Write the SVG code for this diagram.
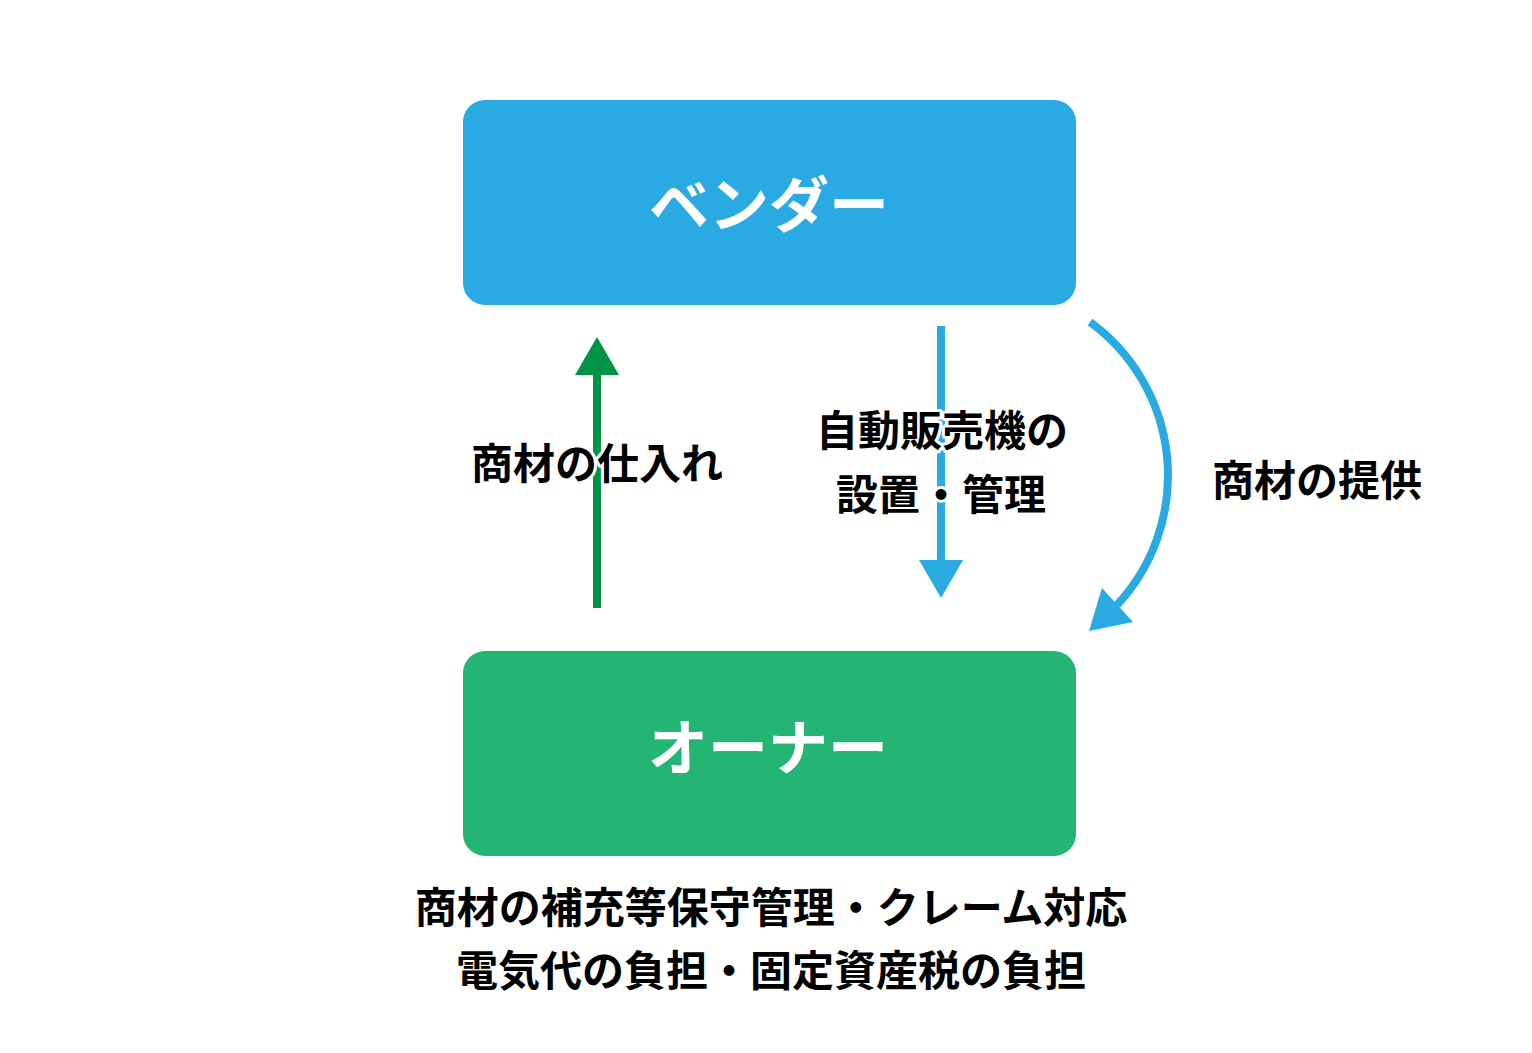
<svg xmlns="http://www.w3.org/2000/svg" width="1532" height="1053" viewBox="0 0 1532 1053">
<style>
.lbl{font-family:"Noto Sans CJK JP","Noto Sans",sans-serif;font-weight:bold;font-size:42px;fill:#000;stroke:#fff;stroke-width:6px;paint-order:stroke;stroke-linejoin:round;text-anchor:middle;dominant-baseline:central}
.ttl{font-family:"Noto Sans CJK JP","Noto Sans",sans-serif;font-weight:bold;font-size:60px;fill:#fff;text-anchor:middle;dominant-baseline:central}
</style>
<rect width="1532" height="1053" fill="#fff"/>
<g id="connectors">
<line x1="597" y1="608" x2="597" y2="372" stroke="#009245" stroke-width="8"/>
<polygon points="575,375 619,375 597,337" fill="#009245"/>
<line x1="941" y1="326" x2="941" y2="562" stroke="#29ABE2" stroke-width="8"/>
<polygon points="919,560 963,560 941,598" fill="#29ABE2"/>
<path d="M1090,322 A190,190 0 0 1 1117,605" fill="none" stroke="#29ABE2" stroke-width="8"/>
<polygon points="1102,588 1133,622 1089,631" fill="#29ABE2"/>
</g>
<g id="vendor">
<rect x="463" y="100" width="613" height="205" rx="22" fill="#2AAAE2"/>
<text class="ttl" x="769" y="200">ベンダー</text>
</g>
<g id="owner">
<rect x="463" y="651" width="613" height="205" rx="22" fill="#24B574"/>
<text class="ttl" x="768" y="743">オーナー</text>
</g>
<g id="labels">
<text class="lbl" x="597" y="460">商材の仕入れ</text>
<text class="lbl" x="942" y="427">自動販売機の</text>
<text class="lbl" x="941" y="491">設置・管理</text>
<text class="lbl" x="1317" y="477">商材の提供</text>
<text class="lbl" x="771" y="904">商材の補充等保守管理・クレーム対応</text>
<text class="lbl" x="771" y="967">電気代の負担・固定資産税の負担</text>
</g>
</svg>
